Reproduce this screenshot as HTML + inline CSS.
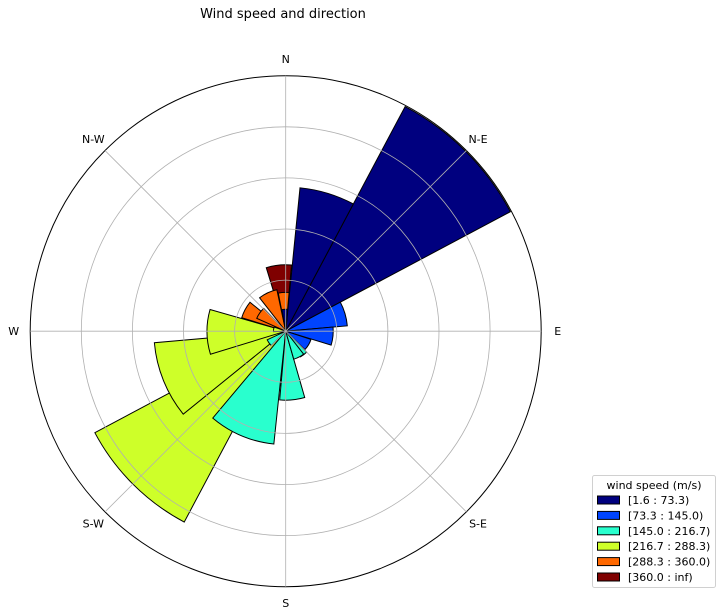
<!DOCTYPE html>
<html><head><meta charset="utf-8">
<style>
html,body{margin:0;padding:0;background:#fff;}
svg{display:block;font-family:"DejaVu Sans","Liberation Sans",sans-serif;}
</style></head>
<body>
<svg id="chart" width="723" height="616" viewBox="0 0 723 616" xmlns="http://www.w3.org/2000/svg">
  <text x="283" y="18" font-size="13" text-anchor="middle" fill="#000">Wind speed and direction</text>
  <g id="bars"></g>
  <g id="grid"></g>
  <g id="labels"></g>
  <g id="legend"></g>
</svg>
<script>
// Bar data: start angle, end angle (deg clockwise from N), radial value (ring units), speed bin index
const barStart = [28, 208, 5.7, 231, 186, 253, 343, 62, 164, 85, 287, 322, 349, 294, 142, 108, 135, 350, 225, 268];
const barEnd   = [62, 242, 28, 265, 220, 286, 5, 85, 185, 107, 309, 348, 5, 316, 164, 134, 150, 5, 245, 290];
const barValue = [4.98, 4.23, 2.82, 2.58, 2.22, 1.54, 1.30, 1.21, 1.35, 0.93, 0.90, 0.83, 0.76, 0.62, 0.57, 0.52, 0.58, 0.43, 0.40, 0.24];
const barBin   = [0, 3, 0, 3, 2, 3, 5, 1, 2, 1, 4, 4, 4, 4, 2, 1, 2, 0, 2, 3];
const binLabels = ["[1.6 : 73.3)", "[73.3 : 145.0)", "[145.0 : 216.7)", "[216.7 : 288.3)", "[288.3 : 360.0)", "[360.0 : inf)"];
const binColors = ["#00007f", "#0044ff", "#29ffce", "#ceff29", "#ff6800", "#7f0000"];
const dirLabels = ["N", "N-E", "E", "S-E", "S", "S-W", "W", "N-W"];
const ringValues = [1, 2, 3, 4, 5];

const NS = "http://www.w3.org/2000/svg";
const cx = 285.7, cy = 331.2, R = 255.5, rMax = 5;
function rScale(v){ return v / rMax * R; }
function pt(angDeg, r){ const a = angDeg * Math.PI / 180; return [cx + r*Math.sin(a), cy - r*Math.cos(a)]; }

const order = barValue.map((v,i)=>i).sort((a,b)=>barValue[b]-barValue[a]);
const gb = document.getElementById("bars");
order.forEach(i=>{
  let s = barStart[i], e = barEnd[i]; if (e < s) e += 360;
  const r = rScale(barValue[i]);
  const p1 = pt(s, r), p2 = pt(e, r);
  const large = (e - s) > 180 ? 1 : 0;
  const p = document.createElementNS(NS, "path");
  p.setAttribute("d", `M${cx},${cy} L${p1[0]},${p1[1]} A${r},${r} 0 ${large} 1 ${p2[0]},${p2[1]} Z`);
  p.setAttribute("fill", binColors[barBin[i]]);
  p.setAttribute("stroke", "#000");
  p.setAttribute("stroke-width", "1");
  
  
  gb.appendChild(p);
});

const gg = document.getElementById("grid");
ringValues.forEach((v,k)=>{
  const c = document.createElementNS(NS, "circle");
  c.setAttribute("cx", cx); c.setAttribute("cy", cy); c.setAttribute("r", rScale(v));
  c.setAttribute("fill", "none");
  const outer = k === ringValues.length - 1;
  c.setAttribute("stroke", outer ? "#000" : "#b0b0b0");
  c.setAttribute("stroke-width", outer ? "1" : "0.8");
  
  
  gg.appendChild(c);
});
dirLabels.forEach((lab,k)=>{
  const ang = k*45;
  const p = pt(ang, R);
  const l = document.createElementNS(NS, "line");
  l.setAttribute("x1", cx); l.setAttribute("y1", cy); l.setAttribute("x2", p[0]); l.setAttribute("y2", p[1]);
  l.setAttribute("stroke", "#b0b0b0"); l.setAttribute("stroke-width", "0.8");
  
  
  gg.appendChild(l);
  const q = pt(ang, 272);
  const t = document.createElementNS(NS, "text");
  t.setAttribute("x", q[0]); t.setAttribute("y", q[1] + 4);
  t.setAttribute("font-size", "11"); t.setAttribute("text-anchor", "middle");
  t.textContent = lab;
  
  
  document.getElementById("labels").appendChild(t);
});

const gl = document.getElementById("legend");
const box = document.createElementNS(NS, "rect");
box.setAttribute("x", 592.5); box.setAttribute("y", 475.5); box.setAttribute("width", 123); box.setAttribute("height", 112);
box.setAttribute("rx", 2); box.setAttribute("fill", "#fff"); box.setAttribute("stroke", "#d0d0d0");


gl.appendChild(box);
const lt = document.createElementNS(NS, "text");
lt.setAttribute("x", 654); lt.setAttribute("y", 489); lt.setAttribute("font-size", "11"); lt.setAttribute("text-anchor", "middle");
lt.textContent = "wind speed (m/s)";


gl.appendChild(lt);
binLabels.forEach((lab,k)=>{
  const y = 500 + k*15.4;
  const r = document.createElementNS(NS, "rect");
  r.setAttribute("x", 597.5); r.setAttribute("y", y - 4); r.setAttribute("width", 22); r.setAttribute("height", 8);
  r.setAttribute("fill", binColors[k]); r.setAttribute("stroke", "#000"); r.setAttribute("stroke-width", "1");
  
  
  gl.appendChild(r);
  const t = document.createElementNS(NS, "text");
  t.setAttribute("x", 628); t.setAttribute("y", y + 4); t.setAttribute("font-size", "11");
  t.textContent = lab;
  
  
  gl.appendChild(t);
});
</script>
</body></html>
